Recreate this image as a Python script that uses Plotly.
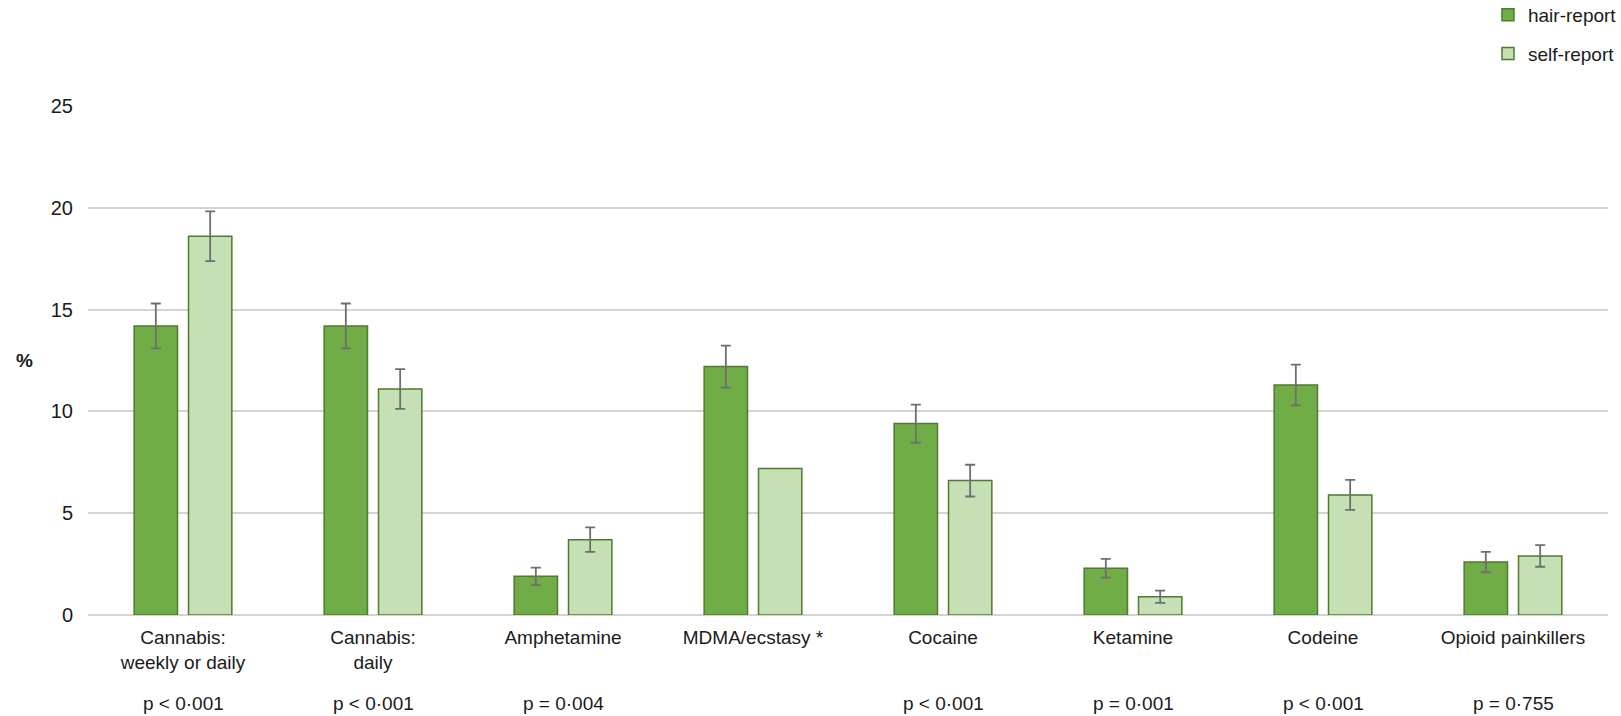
import numpy as np
import plotly.graph_objects as go

# Drug categories shown along the x axis
categories = [
    "Cannabis:<br>weekly or daily",
    "Cannabis:<br>daily",
    "Amphetamine",
    "MDMA/ecstasy *",
    "Cocaine",
    "Ketamine",
    "Codeine",
    "Opioid painkillers",
]

# Prevalence (%) by hair analysis and by self-report
hair_report = [14.2, 14.2, 1.9, 12.2, 9.4, 2.3, 11.3, 2.6]
self_report = [18.6, 11.1, 3.7, 7.2, 6.6, 0.9, 5.9, 2.9]

# Half-widths of the confidence intervals (None = not shown)
hair_err = [1.1, 1.1, 0.43, 1.03, 0.93, 0.46, 1.0, 0.5]
self_err = [1.22, 0.98, 0.6, None, 0.78, 0.3, 0.74, 0.53]

# Test results written under each category
p_values = [
    "p < 0·001", "p < 0·001", "p = 0·004", "",
    "p < 0·001", "p = 0·001", "p < 0·001", "p = 0·755",
]

y_ticks = [0, 5, 10, 15, 20, 25]

FONT = "Liberation Sans, Arial, sans-serif"
TEXT = "#1a1a1a"
GRID = "#d4d4d4"
ERR = "#6e6e6e"
EDGE = "#4f7a2f"


def err_array(values):
    # missing intervals become NaN so no error bar is drawn for them
    return np.array([np.nan if v is None else v for v in values], dtype=float)


x = list(range(len(categories)))

fig = go.Figure()
fig.add_trace(go.Bar(
    x=x, y=hair_report, name="hair-report", legendgroup="hair",
    marker=dict(color="#70ad47", line=dict(color=EDGE, width=1.5)),
    error_y=dict(type="data", array=err_array(hair_err), color=ERR, thickness=1.8, width=5),
))
fig.add_trace(go.Bar(
    x=x, y=self_report, name="self-report", legendgroup="self",
    marker=dict(color="#c5e0b4", line=dict(color=EDGE, width=1.5)),
    error_y=dict(type="data", array=err_array(self_err), color=ERR, thickness=1.8, width=5),
))

for xi, p in zip(x, p_values):
    if p:
        fig.add_annotation(
            x=xi, xref="x", y=-0.174, yref="paper", yanchor="middle",
            text=p, showarrow=False, font=dict(family=FONT, size=19, color=TEXT),
        )

# axis caption to the left of the tick labels
fig.add_annotation(
    x=-0.0416, xref="paper", xanchor="center", y=0.5, yref="paper", yanchor="middle",
    showarrow=False, text="<b>%</b>", font=dict(family=FONT, size=19, color=TEXT),
)

fig.update_layout(
    width=1621, height=716,
    margin=dict(l=88, r=13, t=106, b=101, autoexpand=False),
    paper_bgcolor="white", plot_bgcolor="white",
    barmode="group", bargap=0.428, bargroupgap=0.2026,
    font=dict(family=FONT, size=19, color=TEXT),
    legend=dict(
        x=1.0092, xanchor="right", y=1.2161, yref="paper", yanchor="top",
        font=dict(family=FONT, size=19, color=TEXT),
        tracegroupgap=11, bgcolor="rgba(0,0,0,0)", borderwidth=0,
    ),
    xaxis=dict(
        tickmode="array", tickvals=x, ticktext=categories,
        range=[-0.5, len(categories) - 0.5],
        showgrid=False, showline=False, ticks="", zeroline=False,
        ticklabelstandoff=9,
        tickfont=dict(family=FONT, size=19, color=TEXT),
    ),
    yaxis=dict(
        range=[0, 25], tickvals=y_ticks,
        showgrid=True, gridcolor=GRID, gridwidth=1.5,
        zeroline=True, zerolinecolor=GRID, zerolinewidth=1.5,
        showline=False, ticks="", ticklabelstandoff=14,
        tickfont=dict(family=FONT, size=20, color=TEXT),
    ),
)

fig.write_html("out.html")
